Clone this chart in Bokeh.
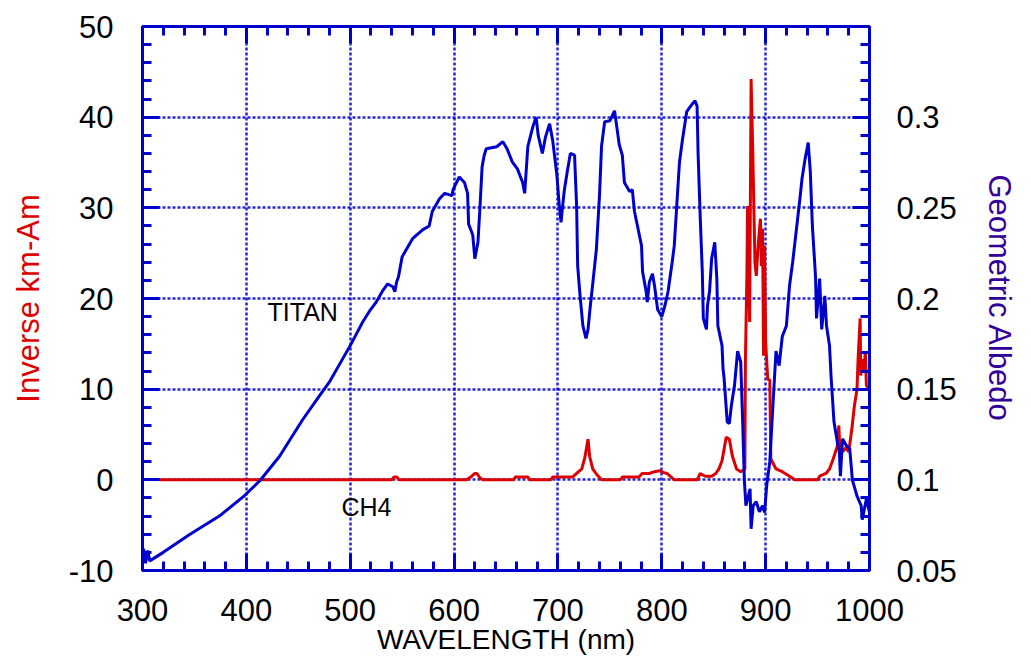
from bokeh.plotting import figure
from bokeh.models import Range1d, LinearAxis, SingleIntervalTicker, Label, CustomJSTickFormatter
from bokeh.embed import file_html
from bokeh.resources import INLINE

# TITAN geometric albedo (right axis)
titan_wl = [300, 301, 303, 305, 307, 320, 345, 374, 398, 413, 432, 454, 470, 480, 491.6, 499,
            506, 512, 518.5, 525, 531, 536, 541, 543, 544.6, 546.5, 550, 560, 570, 576, 579,
            586, 591, 598, 599, 605, 610, 613, 614, 618, 620, 623, 625, 627, 629, 631, 641,
            647, 651, 656, 661, 666, 668, 671, 676, 679, 681, 685, 688, 692, 695, 699, 701,
            703, 704, 706, 709, 712, 716, 718, 719, 721, 724, 727, 729, 731, 733, 737, 740,
            742, 745, 750, 754.5, 756, 759, 762, 764, 769, 771.6, 773.7, 776.6, 780.5, 781.5,
            785, 786, 788, 791, 793, 796, 800, 803, 806, 810, 812, 815, 817, 820, 824, 829,
            832, 834, 835, 837, 839, 840, 843, 844, 846, 848, 851, 853, 854, 858, 859, 860,
            863, 865, 867, 870, 873, 876, 878, 879.5, 881, 885, 886, 888, 891, 894, 897, 899,
            901, 904, 907, 908.5, 910, 913, 916, 920, 923, 926, 930, 933, 935, 938, 941, 943,
            945, 948, 949, 952, 954, 957, 958.6, 961.5, 963, 965.8, 969, 971, 972, 974, 977.6,
            981, 983.5, 988, 992, 993, 997, 1000]
titan_alb = [0.055, 0.062, 0.054, 0.061, 0.0553, 0.060, 0.0697, 0.080, 0.0912, 0.0995, 0.113,
             0.133, 0.146, 0.154, 0.1656, 0.173, 0.1805, 0.187, 0.193, 0.198, 0.204, 0.208,
             0.2065, 0.2037, 0.209, 0.212, 0.223, 0.233, 0.238, 0.240, 0.248, 0.255, 0.258,
             0.2567, 0.26, 0.267, 0.264, 0.258, 0.241, 0.235, 0.222, 0.231, 0.251, 0.2727,
             0.279, 0.2826, 0.2837, 0.2865, 0.2826, 0.2754, 0.2715, 0.264, 0.258, 0.2837,
             0.295, 0.300, 0.290, 0.280, 0.289, 0.2964, 0.287, 0.268, 0.2533, 0.242, 0.248,
             0.259, 0.270, 0.280, 0.279, 0.251, 0.218, 0.2037, 0.185, 0.178, 0.183, 0.195,
             0.2053, 0.227, 0.2566, 0.284, 0.2975, 0.298, 0.3035, 0.2975, 0.285, 0.279, 0.264,
             0.259, 0.260, 0.248, 0.240, 0.229, 0.2147, 0.2037, 0.198, 0.209, 0.2136, 0.207,
             0.194, 0.190, 0.196, 0.2037, 0.220, 0.229, 0.2566, 0.275, 0.288, 0.303, 0.307,
             0.309, 0.306, 0.279, 0.245, 0.215, 0.189, 0.183, 0.196, 0.204, 0.222, 0.231,
             0.211, 0.185, 0.174, 0.161, 0.156, 0.132, 0.131, 0.141, 0.152, 0.171, 0.165,
             0.13, 0.1, 0.0857, 0.095, 0.073, 0.0857, 0.088, 0.0823, 0.0857, 0.082, 0.0967,
             0.11, 0.141, 0.156, 0.171, 0.163, 0.179, 0.185, 0.207, 0.220, 0.240, 0.255,
             0.266, 0.277, 0.286, 0.270, 0.240, 0.2125, 0.189, 0.211, 0.183, 0.2015, 0.185,
             0.174, 0.157, 0.132, 0.121, 0.115, 0.102, 0.1226, 0.119, 0.117, 0.1, 0.091,
             0.0857, 0.078, 0.0895, 0.082]

# CH4 absorption (left axis, inverse km-Am)
ch4_wl = [316, 540, 542, 545, 547, 612, 616, 620, 622, 625, 628, 657, 659, 671, 673, 693, 695,
          710, 714, 718, 723, 726, 729, 730.5, 733.5, 738, 742, 760, 762, 778, 781, 788, 793,
          798, 802, 805, 808, 812, 834, 837, 842, 848, 852, 855, 858, 862, 865, 868, 872, 876,
          880, 880.5, 882, 882.6, 884.6, 886, 887.5, 889.7, 891, 893, 895, 896, 897, 898, 899,
          900, 902, 904, 905, 910, 916, 923, 928, 950, 952, 958, 961.5, 965, 969, 970.5, 971.5,
          974, 977, 980, 983, 985.5, 988, 989, 991, 991.5, 993, 994.5, 996, 997, 1000]
ch4_val = [0, 0, 0.3, 0.3, 0, 0, 0.3, 0.7, 0.7, 0.2, 0, 0, 0.3, 0.3, 0, 0, 0.3,
           0.3, 0.3, 0.7, 1.2, 2.5, 4.5, 2.6, 1.2, 0.5, 0, 0, 0.3, 0.3, 0.7, 0.7, 0.9,
           1.0, 0.8, 0.7, 0.4, 0, 0, 0.7, 0.4, 0.4, 0.7, 1.2, 2.1, 4.7, 4.5, 2.6, 1.2, 0.9,
           1.2, 13, 22.9, 30.2, 17.4, 44.2, 36.8, 24, 22.5, 26.2, 28.8, 23.6, 27.7, 13.7, 25.8,
           15.2, 11.1, 11, 2.3, 1.2, 0.9, 0.4, 0, 0, 0.4, 0.7, 1.2, 2.3, 3.7, 6, 3,
           3.1, 3.5, 3.1, 5.6, 8.2, 10, 13.3, 17.8, 11.5, 13.3, 11.9, 14.1, 10.4, 10]

BLUE = "#0000cc"
RED = "#dd0000"
PURPLE = "#330099"
FONT = "Liberation Sans"

p = figure(width=1022, height=658, x_range=Range1d(300, 1000), y_range=Range1d(-10, 50),
           output_backend="svg", toolbar_location=None,
           min_border_left=142, min_border_right=153, min_border_top=26, min_border_bottom=88)
p.extra_y_ranges = {"alb": Range1d(0.05, 0.35)}
p.background_fill_color = "white"
p.border_fill_color = "white"
p.outline_line_color = BLUE
p.outline_line_width = 3

bottom = p.below[0]
left = p.left[0]

xt = SingleIntervalTicker(interval=100, num_minor_ticks=5)
yt = SingleIntervalTicker(interval=10, num_minor_ticks=5)
rt = SingleIntervalTicker(interval=0.05, num_minor_ticks=5)

bottom.ticker = xt
left.ticker = yt
p.xgrid.ticker = xt
p.ygrid.ticker = yt
p.grid.grid_line_color = BLUE
p.grid.grid_line_dash = "3 2"
p.grid.grid_line_width = 2.5
p.grid.grid_line_alpha = 0.85

fmt = CustomJSTickFormatter(code="return (Math.round(tick*100)/100).toString();")
bottom.formatter = fmt
left.formatter = fmt

right = LinearAxis(y_range_name="alb", ticker=rt, formatter=fmt)
p.add_layout(right, "right")
top = LinearAxis(ticker=xt, major_label_text_font_size="0px", major_label_text_alpha=0,
                 major_label_standoff=0)
p.add_layout(top, "above")

for ax in [bottom, left, right, top]:
    ax.axis_line_color = BLUE
    ax.axis_line_width = 3
    ax.major_tick_line_color = BLUE
    ax.minor_tick_line_color = BLUE
    ax.major_tick_line_width = 3
    ax.minor_tick_line_width = 3
    ax.major_tick_in = 17
    ax.major_tick_out = 0
    ax.minor_tick_in = 9
    ax.minor_tick_out = 0
    ax.major_label_text_font = FONT
    ax.major_label_text_color = "black"
    ax.axis_label_text_font = FONT
    ax.axis_label_text_font_style = "normal"

for ax in [bottom, left, right]:
    ax.major_label_text_font_size = "31px"

left.axis_label = "Inverse km-Am"
left.axis_label_text_color = RED
left.axis_label_text_font_size = "31px"
left.axis_label_standoff = 20
left.major_label_standoff = 29

right.axis_label = "Geometric Albedo"
right.axis_label_text_color = PURPLE
right.axis_label_text_font_size = "31px"
right.axis_label_standoff = 22
right.major_label_standoff = 27

bottom.major_label_standoff = 28
bottom.axis_label = "WAVELENGTH (nm)"
bottom.axis_label_text_color = "black"
bottom.axis_label_text_font_size = "28px"
bottom.axis_label_standoff = 0

p.line(ch4_wl, ch4_val, line_color=RED, line_width=3)
p.line(titan_wl, titan_alb, line_color=BLUE, line_width=3, y_range_name="alb")

p.add_layout(Label(x=420.4, y=18.5, text="TITAN", text_font=FONT, text_font_size="25px",
                   text_color="black", text_baseline="alphabetic"))
p.add_layout(Label(x=491.6, y=-2.98, text="CH4", text_font=FONT, text_font_size="25px",
                   text_color="black", text_baseline="alphabetic"))

open("out.html", "w").write(file_html(p, INLINE))
